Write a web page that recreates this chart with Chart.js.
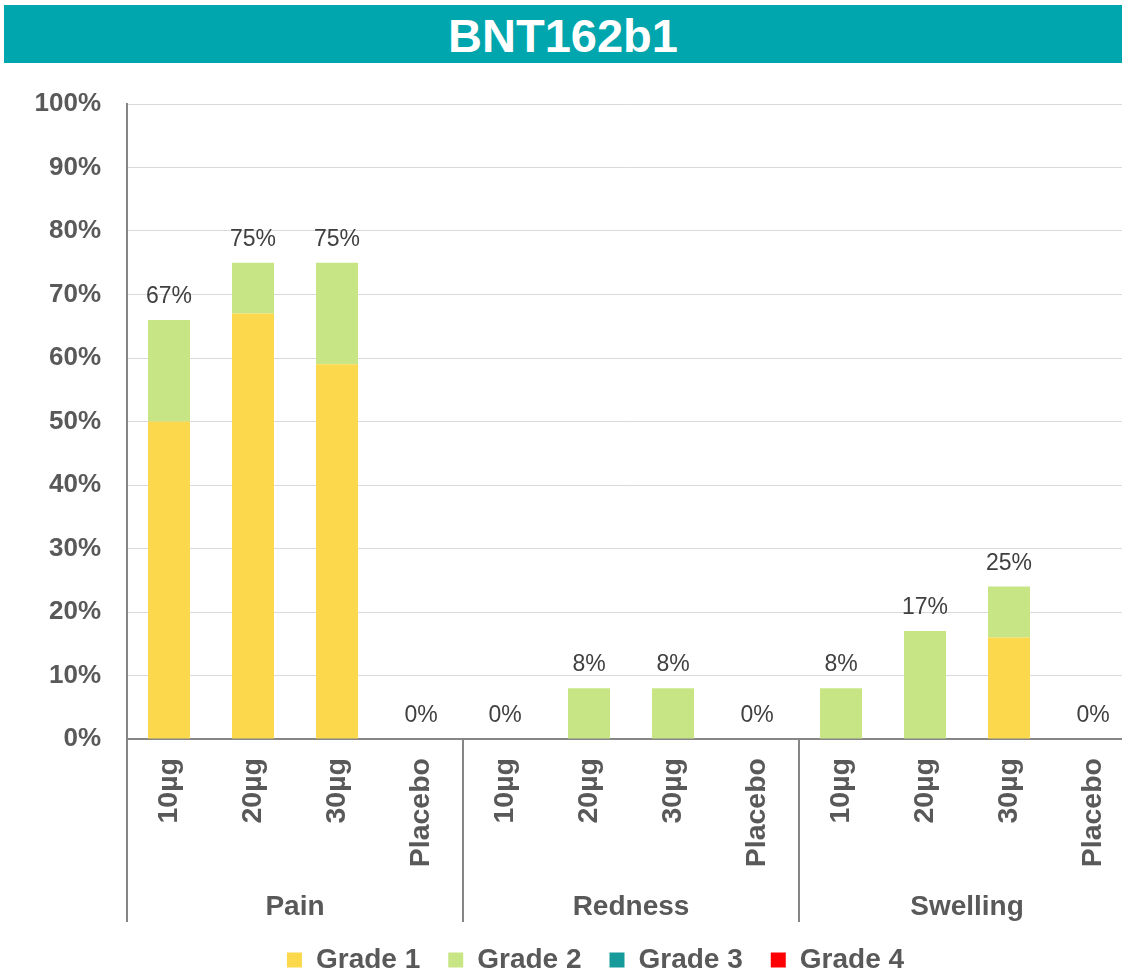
<!DOCTYPE html>
<html>
<head>
<meta charset="utf-8">
<script src="https://cdn.jsdelivr.net/npm/chart.js@4.4.1/dist/chart.umd.min.js"></script>
<style>
  html, body { margin: 0; padding: 0; background: #ffffff; overflow: hidden; }
  #wrap { position: relative; width: 1122px; height: 975px; overflow: hidden; background: #fff; }
  #band { position: absolute; left: 4px; top: 5px; width: 1118px; height: 58px; background: #00A6AD;
          color: #fff; font: bold 47px "Liberation Sans", Arial, sans-serif; text-align: center; line-height: 61px; }
  canvas { position: absolute; left: 0; top: 0; }
</style>
</head>
<body>
<div id="wrap">
  <canvas id="c" width="1150" height="975" style="width:1150px;height:975px"></canvas>
  <div id="band">BNT162b1</div>
</div>
<script>
const categories = ['10µg', '20µg', '30µg', 'Placebo', '10µg', '20µg', '30µg', 'Placebo', '10µg', '20µg', '30µg', 'Placebo'];
const groups = ['Pain', 'Redness', 'Swelling'];
const grade1 = [50, 67, 59, 0, 0, 0, 0, 0, 0, 0, 16, 0];
const grade2 = [16, 8, 16, 0, 0, 8, 8, 0, 8, 17, 8, 0];
const grade3 = [0, 0, 0, 0, 0, 0, 0, 0, 0, 0, 0, 0];
const grade4 = [0, 0, 0, 0, 0, 0, 0, 0, 0, 0, 0, 0];
const totalLabels = ['67%', '75%', '75%', '0%', '0%', '8%', '8%', '0%', '8%', '17%', '25%', '0%'];
const yTicks = [0, 10, 20, 30, 40, 50, 60, 70, 80, 90, 100];

const FONT = '"Liberation Sans", Arial, sans-serif';
const AXIS = '#868686';
const TXT = '#595959';

const extras = {
  id: 'extras',
  afterLayout(chart) {
    // legend sits a little right of the canvas centre in the reference
    if (chart.legend) { chart.legend.left += 28; chart.legend.right += 28; }
  },
  afterDatasetsDraw(chart) {
    const ctx = chart.ctx;
    const xs = chart.scales.x, ys = chart.scales.y;
    const area = chart.chartArea;
    const bottom = 922;
    ctx.save();
    // data labels
    ctx.font = '23px ' + FONT;
    ctx.fillStyle = '#404040';
    ctx.textAlign = 'center';
    ctx.textBaseline = 'alphabetic';
    for (let i = 0; i < categories.length; i++) {
      let total = 0;
      chart.data.datasets.forEach(ds => { total += ds.data[i]; });
      const x = xs.getPixelForValue(i);
      const y = ys.getPixelForValue(total);
      ctx.fillText(totalLabels[i], x, y - 17);
    }
    // separators and axis extension
    ctx.strokeStyle = AXIS;
    ctx.lineWidth = 2;
    const per = categories.length / groups.length;
    const seps = [area.left];
    for (let g = 1; g < groups.length; g++) {
      seps.push((xs.getPixelForValue(g * per - 1) + xs.getPixelForValue(g * per)) / 2);
    }
    seps.forEach(x => {
      ctx.beginPath();
      ctx.moveTo(x, area.bottom);
      ctx.lineTo(x, bottom);
      ctx.stroke();
    });
    // group labels
    ctx.font = 'bold 28px ' + FONT;
    ctx.fillStyle = TXT;
    groups.forEach((g, k) => {
      const x0 = xs.getPixelForValue(k * per);
      const x1 = xs.getPixelForValue(k * per + per - 1);
      ctx.fillText(g, (x0 + x1) / 2, 915);
    });
    ctx.restore();
  }
};

new Chart(document.getElementById('c'), {
  type: 'bar',
  data: {
    labels: categories,
    datasets: [
      { label: 'Grade 1', data: grade1, backgroundColor: '#FCD84C' },
      { label: 'Grade 2', data: grade2, backgroundColor: '#C8E585' },
      { label: 'Grade 3', data: grade3, backgroundColor: '#169A9A' },
      { label: 'Grade 4', data: grade4, backgroundColor: '#FF0000' }
    ]
  },
  options: {
    responsive: false,
    devicePixelRatio: 1,
    animation: false,
    layout: { padding: { top: 104, left: 0, right: 15, bottom: -9 } },
    datasets: { bar: { categoryPercentage: 0.5, barPercentage: 1, borderWidth: 0 } },
    plugins: {
      legend: {
        position: 'bottom',
        labels: {
          boxWidth: 15, boxHeight: 15, padding: 28,
          color: TXT, font: { family: FONT, size: 28, weight: 'bold' }
        }
      },
      tooltip: { enabled: false },
      title: { display: false }
    },
    scales: {
      x: {
        stacked: true,
        afterFit(scale) { scale.height = 179; },
        grid: { display: true, color: 'transparent', drawTicks: false },
        border: { display: true, color: AXIS, width: 2 },
        ticks: {
          autoSkip: false, minRotation: 90, maxRotation: 90, padding: 19,
          color: TXT, font: { family: FONT, size: 28.5, weight: 'bold' }
        }
      },
      y: {
        stacked: true,
        min: 0, max: 100,
        afterFit(scale) { scale.width = 127; },
        afterBuildTicks(scale) { scale.ticks = yTicks.map(v => ({ value: v })); },
        grid: { color: '#D9D9D9', lineWidth: 1, drawTicks: false },
        border: { display: true, color: AXIS, width: 2 },
        ticks: {
          padding: 26, color: TXT,
          font: { family: FONT, size: 26, weight: 'bold' },
          callback: v => v + '%'
        }
      }
    }
  },
  plugins: [extras]
});
</script>
</body>
</html>
